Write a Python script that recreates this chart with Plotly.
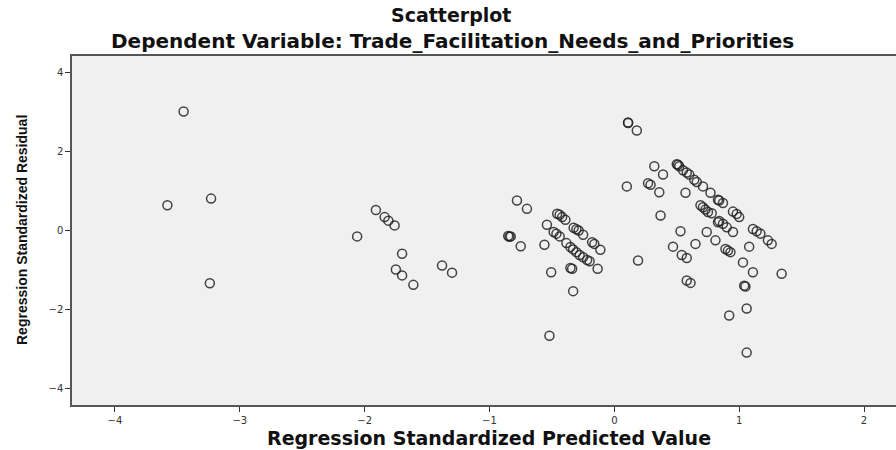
import plotly.graph_objects as go

predicted = [
    -3.45, -3.58, -3.23, -3.24,
    -2.06, -1.91, -1.84, -1.81, -1.76, -1.70, -1.75, -1.70, -1.61, -1.38, -1.30,
    -0.78, -0.70, -0.85, -0.84, -0.83, -0.75, -0.56, -0.54,
    -0.458, -0.438, -0.418, -0.392, -0.326, -0.304, -0.286, -0.25, -0.178, -0.16, -0.112,
    -0.486, -0.464, -0.438, -0.384, -0.352, -0.33, -0.304, -0.278, -0.25, -0.218, -0.198,
    -0.506, -0.352, -0.338, -0.134, -0.33, -0.52,
    0.11, 0.11, 0.18, 0.10, 0.19,
    0.32, 0.39, 0.27, 0.29, 0.36, 0.57, 0.37,
    0.50, 0.51, 0.52, 0.55, 0.58, 0.60, 0.64, 0.66, 0.71, 0.77, 0.83, 0.84, 0.87, 0.95, 0.98, 1.00,
    1.11, 1.14, 1.17, 1.23, 1.26,
    0.69, 0.71, 0.73, 0.75, 0.78, 0.83, 0.84, 0.87, 0.90, 0.95, 0.89, 0.91, 0.93,
    0.53, 0.74, 0.81, 0.47, 0.65, 1.08, 0.54, 0.58, 1.03, 1.11, 1.34, 0.58, 0.61, 1.04, 1.05,
    1.06, 0.92, 1.06,
]
residual = [
    3.02, 0.64, 0.81, -1.34,
    -0.15, 0.52, 0.34, 0.25, 0.13, -0.59, -0.99, -1.14, -1.38, -0.89, -1.07,
    0.76, 0.55, -0.14, -0.16, -0.15, -0.40, -0.36, 0.145,
    0.425, 0.40, 0.34, 0.27, 0.07, 0.03, 0.0, -0.11, -0.30, -0.34, -0.49,
    -0.04, -0.08, -0.15, -0.32, -0.42, -0.48, -0.55, -0.62, -0.68, -0.75, -0.78,
    -1.06, -0.95, -0.97, -0.97, -1.54, -2.67,
    2.73, 2.74, 2.54, 1.12, -0.76,
    1.63, 1.42, 1.20, 1.16, 0.97, 0.96, 0.38,
    1.68, 1.67, 1.63, 1.53, 1.47, 1.42, 1.29, 1.23, 1.12, 0.96, 0.78, 0.76, 0.70, 0.48, 0.42, 0.34,
    0.04, -0.02, -0.08, -0.25, -0.34,
    0.64, 0.59, 0.53, 0.47, 0.44, 0.21, 0.24, 0.17, 0.08, -0.04, -0.47, -0.51, -0.55,
    -0.02, -0.04, -0.25, -0.41, -0.34, -0.41, -0.62, -0.70, -0.81, -1.06, -1.10, -1.27, -1.33, -1.40, -1.42,
    -1.98, -2.16, -3.10,
]

x_ticks = [-4, -3, -2, -1, 0, 1, 2]
y_ticks = [-4, -2, 0, 2, 4]

title_text = "Scatterplot"
subtitle_text = "Dependent Variable: Trade_Facilitation_Needs_and_Priorities"
x_title = "Regression Standardized Predicted Value"
y_title = "Regression Standardized Residual"

fig = go.Figure()
fig.add_trace(go.Scatter(
    x=predicted, y=residual, mode="markers",
    marker=dict(symbol="circle-open", size=9, color="rgba(35,35,35,0.85)",
                line=dict(width=1.5, color="rgba(35,35,35,0.85)")),
    showlegend=False, hoverinfo="x+y",
))

W, H = 896, 450
L, R, T, B = 72, 0, 56, 45
PW, PH = W - L - R, H - T - B


def px(xp):
    return (xp - L) / PW


def py(yp):
    return (H - B - yp) / PH


title_font = "DejaVu Sans, Verdana, sans-serif"
fig.update_layout(
    width=W, height=H,
    margin=dict(l=L, r=R, t=T, b=B, autoexpand=False),
    paper_bgcolor="white",
    plot_bgcolor="#f0f0f0",
    font=dict(family=title_font, color="#222"),
    xaxis=dict(
        range=[-4.344, 2.256], tickvals=x_ticks, ticks="outside", ticklen=5,
        tickcolor="#333", tickwidth=1.2, showgrid=False, zeroline=False,
        showline=True, linecolor="#555", linewidth=1.5, mirror=True,
        tickfont=dict(size=10, color="#333"), automargin=False,
    ),
    yaxis=dict(
        range=[-4.43, 4.43], tickvals=y_ticks, ticks="outside", ticklen=5,
        tickcolor="#333", tickwidth=1.2, showgrid=False, zeroline=False,
        showline=True, linecolor="#555", linewidth=1.5,
        tickfont=dict(size=10, color="#333"), automargin=False,
    ),
    annotations=[
        dict(text="<b>" + title_text + "</b>", xref="paper", yref="paper",
             x=px(451), y=py(15), xanchor="center", yanchor="middle",
             showarrow=False, font=dict(size=19, color="#111", family=title_font)),
        dict(text="<b>" + subtitle_text + "</b>", xref="paper", yref="paper",
             x=px(452), y=py(41), xanchor="center", yanchor="middle",
             showarrow=False, font=dict(size=20, color="#111", family=title_font)),
        dict(text="<b>" + x_title + "</b>", xref="paper", yref="paper",
             x=px(489), y=py(438), xanchor="center", yanchor="middle",
             showarrow=False, font=dict(size=19, color="#111", family=title_font)),
        dict(text="<b>" + y_title + "</b>", xref="paper", yref="paper",
             x=px(22), y=py(230), xanchor="center", yanchor="middle", textangle=-90,
             showarrow=False,
             font=dict(size=14, color="#111",
                       family="Liberation Sans Narrow, Arial Narrow, Liberation Sans, Arial, sans-serif")),
    ],
)

# Remove the browser's default 8px body margin so the figure fills the window exactly.
fig.write_html(
    "out.html",
    config={"displayModeBar": False},
    post_script="document.body.style.margin='0px';document.body.style.overflow='hidden';",
)
